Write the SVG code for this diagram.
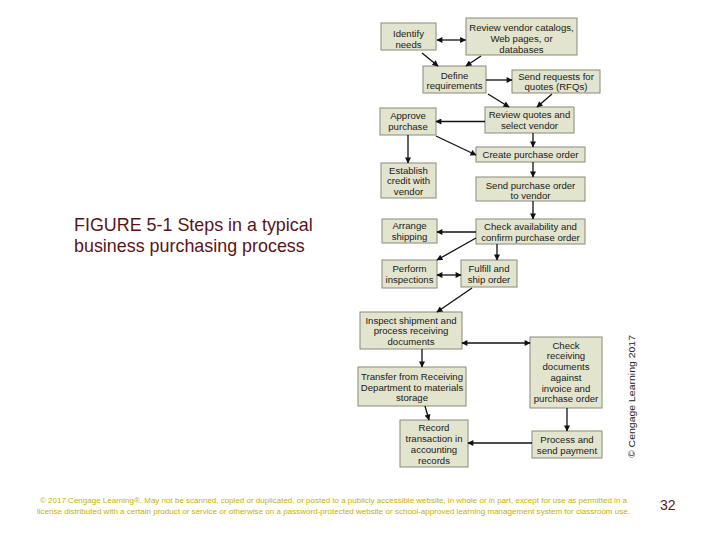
<svg xmlns="http://www.w3.org/2000/svg" width="720" height="540" viewBox="0 0 720 540">
<style>
.box rect{fill:#e2e4cd;stroke:#8a8a7c;stroke-width:1}
.box text{font-family:"Liberation Sans",Arial,sans-serif;font-size:9.6px;fill:#1a1a1a;text-anchor:middle}
.c line{stroke:#111;stroke-width:1.3;marker-end:url(#ah)}
.c line.d{marker-start:url(#as)}
.cap{font-family:"Liberation Sans",Arial,sans-serif;font-size:17.9px;fill:#5a1418}
.foot{font-family:"Liberation Sans",Arial,sans-serif;font-size:7.2px;fill:#c4b200}
</style>
<defs>
<marker id="ah" viewBox="0 0 10 10" refX="9" refY="5" markerWidth="7" markerHeight="6" markerUnits="userSpaceOnUse" orient="auto"><path d="M0,0L10,5L0,10z" fill="#111"/></marker>
<marker id="as" viewBox="0 0 10 10" refX="1" refY="5" markerWidth="7" markerHeight="6" markerUnits="userSpaceOnUse" orient="auto"><path d="M10,0L0,5L10,10z" fill="#111"/></marker>
</defs>
<rect width="720" height="540" fill="#fff"/>

<g id="identify" class="box"><rect x="381" y="23" width="55" height="27"/><text x="408.5" y="36.5">Identify</text><text x="408.5" y="47.5">needs</text></g>
<g id="catalogs" class="box"><rect x="466" y="18" width="111" height="37"/><text x="521.5" y="31">Review vendor catalogs,</text><text x="521.5" y="42">Web pages, or</text><text x="521.5" y="53">databases</text></g>
<g id="define" class="box"><rect x="423" y="66" width="63" height="27"/><text x="454.5" y="78.5">Define</text><text x="454.5" y="89">requirements</text></g>
<g id="rfq" class="box"><rect x="512" y="70" width="88" height="23"/><text x="556" y="79.5">Send requests for</text><text x="556" y="89.5">quotes (RFQs)</text></g>
<g id="approve" class="box"><rect x="380" y="108" width="56" height="27"/><text x="408" y="118.5">Approve</text><text x="408" y="129.5">purchase</text></g>
<g id="quotes" class="box"><rect x="485" y="107" width="89" height="26"/><text x="529.5" y="117.5">Review quotes and</text><text x="529.5" y="128.5">select vendor</text></g>
<g id="createpo" class="box"><rect x="476" y="147" width="109" height="15"/><text x="530.5" y="157.8">Create purchase order</text></g>
<g id="credit" class="box"><rect x="381" y="163" width="55" height="35"/><text x="408.5" y="173.5">Establish</text><text x="408.5" y="184">credit with</text><text x="408.5" y="194.5">vendor</text></g>
<g id="sendpo" class="box"><rect x="476" y="177" width="109" height="24"/><text x="530.5" y="188.5">Send purchase order</text><text x="530.5" y="199">to vendor</text></g>
<g id="arrange" class="box"><rect x="382" y="219" width="55" height="24"/><text x="409.5" y="228.5">Arrange</text><text x="409.5" y="239.5">shipping</text></g>
<g id="avail" class="box"><rect x="476" y="219" width="109" height="25"/><text x="530.5" y="229.5">Check availability and</text><text x="530.5" y="241">confirm purchase order</text></g>
<g id="perform" class="box"><rect x="382" y="260" width="55" height="28"/><text x="409.5" y="271.5">Perform</text><text x="409.5" y="282.5">inspections</text></g>
<g id="fulfill" class="box"><rect x="461" y="260" width="56" height="27"/><text x="489" y="271.5">Fulfill and</text><text x="489" y="283">ship order</text></g>
<g id="inspect" class="box"><rect x="360" y="312" width="102" height="37"/><text x="411" y="323.5">Inspect shipment and</text><text x="411" y="334">process receiving</text><text x="411" y="344.5">documents</text></g>
<g id="checkrec" class="box"><rect x="530" y="337" width="72" height="71"/><text x="566" y="348.5">Check</text><text x="566" y="359.3">receiving</text><text x="566" y="370">documents</text><text x="566" y="380.8">against</text><text x="566" y="391.6">invoice and</text><text x="566" y="402.4">purchase order</text></g>
<g id="transfer" class="box"><rect x="358" y="367" width="108" height="39"/><text x="412" y="380.2">Transfer from Receiving</text><text x="412" y="390.7">Department to materials</text><text x="412" y="401">storage</text></g>
<g id="record" class="box"><rect x="400" y="420" width="68" height="47"/><text x="434" y="431">Record</text><text x="434" y="442.3">transaction in</text><text x="434" y="453.3">accounting</text><text x="434" y="464.3">records</text></g>
<g id="payment" class="box"><rect x="532" y="431" width="70" height="27"/><text x="567" y="442.7">Process and</text><text x="567" y="453.5">send payment</text></g>

<g id="connectors" class="c">
<line class="d" x1="437" y1="40" x2="465.5" y2="40"/>
<line x1="422" y1="53" x2="438" y2="66"/>
<line x1="481" y1="56" x2="466" y2="66"/>
<line x1="486" y1="80" x2="512" y2="80"/>
<line x1="488" y1="94" x2="509" y2="107"/>
<line x1="552" y1="94" x2="537" y2="107"/>
<line x1="485" y1="121.5" x2="436" y2="121.5"/>
<line x1="436" y1="136" x2="476" y2="155"/>
<line x1="533" y1="133" x2="533" y2="147"/>
<line x1="408" y1="135" x2="408" y2="163"/>
<line x1="533" y1="162" x2="533" y2="177"/>
<line x1="533" y1="201" x2="533" y2="219"/>
<line x1="476" y1="232" x2="437" y2="232"/>
<line x1="476" y1="238" x2="437" y2="260"/>
<line x1="497" y1="244" x2="497" y2="260"/>
<line class="d" x1="437" y1="275" x2="461" y2="275"/>
<line x1="472" y1="288" x2="437" y2="312"/>
<line class="d" x1="462" y1="343" x2="530" y2="343"/>
<line x1="422" y1="349" x2="422" y2="367"/>
<line x1="425" y1="406" x2="429" y2="420"/>
<line x1="567" y1="408" x2="567" y2="431"/>
<line x1="532" y1="443" x2="468" y2="443"/>
</g>

<text class="cap" x="74" y="231">FIGURE 5-1 Steps in a typical</text>
<text class="cap" x="74" y="252">business purchasing process</text>

<text x="635" y="396.5" transform="rotate(-90 635 396.5)" text-anchor="middle" font-family="'Liberation Sans',Arial,sans-serif" font-size="9" fill="#222" textLength="123" lengthAdjust="spacingAndGlyphs">© Cengage Learning 2017</text>

<text class="foot" x="40" y="503" textLength="587" lengthAdjust="spacingAndGlyphs">© 2017 Cengage Learning®. May not be scanned, copied or duplicated, or posted to a publicly accessible website, in whole or in part, except for use as permitted in a</text>
<text class="foot" x="37" y="514" textLength="593" lengthAdjust="spacingAndGlyphs">license distributed with a certain product or service or otherwise on a password-protected website or school-approved learning management system for classroom use.</text>
<text x="660" y="510" font-family="'Liberation Sans',Arial,sans-serif" font-size="14" fill="#5a1a1e">32</text>
</svg>
